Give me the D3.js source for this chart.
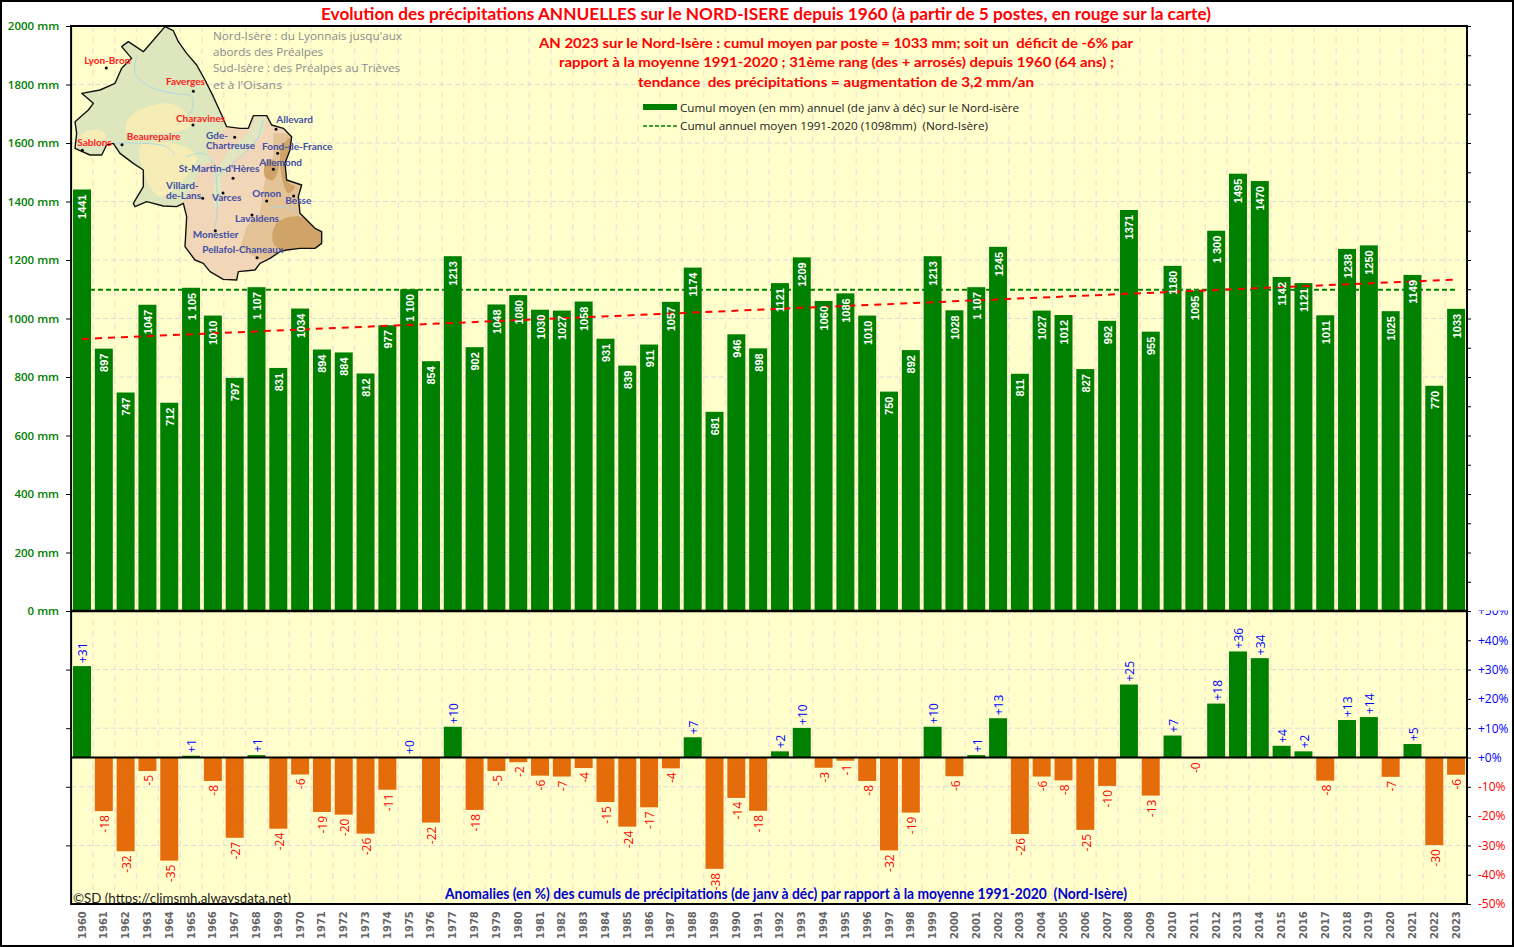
<!DOCTYPE html>
<html>
<head>
<meta charset="utf-8">
<title>Précipitations annuelles Nord-Isère</title>
<script src="https://cdn.jsdelivr.net/npm/d3@7"></script>
<style>
body { margin: 0; background: #fff; }
svg { display: block; }
</style>
</head>
<body>
<svg id="chart" width="1514" height="947"></svg>
<script>
// the data
const years = [1960, 1961, 1962, 1963, 1964, 1965, 1966, 1967, 1968, 1969,
  1970, 1971, 1972, 1973, 1974, 1975, 1976, 1977, 1978, 1979,
  1980, 1981, 1982, 1983, 1984, 1985, 1986, 1987, 1988, 1989,
  1990, 1991, 1992, 1993, 1994, 1995, 1996, 1997, 1998, 1999,
  2000, 2001, 2002, 2003, 2004, 2005, 2006, 2007, 2008, 2009,
  2010, 2011, 2012, 2013, 2014, 2015, 2016, 2017, 2018, 2019,
  2020, 2021, 2022, 2023];
const cumuls = [1441, 897, 747, 1047, 712, 1105, 1010, 797, 1107, 831,
  1034, 894, 884, 812, 977, 1100, 854, 1213, 902, 1048,
  1080, 1030, 1027, 1058, 931, 839, 911, 1057, 1174, 681,
  946, 898, 1121, 1209, 1060, 1086, 1010, 750, 892, 1213,
  1028, 1107, 1245, 811, 1027, 1012, 827, 992, 1371, 955,
  1180, 1095, 1300, 1495, 1470, 1142, 1121, 1011, 1238, 1250,
  1025, 1149, 770, 1033];
const cumulLabels = ["1441", "897", "747", "1047", "712", "1 105", "1010", "797", "1 107", "831",
  "1034", "894", "884", "812", "977", "1 100", "854", "1213", "902", "1048",
  "1080", "1030", "1027", "1058", "931", "839", "911", "1057", "1174", "681",
  "946", "898", "1121", "1209", "1060", "1086", "1010", "750", "892", "1213",
  "1028", "1 107", "1245", "811", "1027", "1012", "827", "992", "1371", "955",
  "1180", "1095", "1 300", "1495", "1470", "1142", "1121", "1011", "1238", "1250",
  "1025", "1149", "770", "1033"];
const anomalies = [31.2, -18.3, -32.0, -4.6, -35.2, 0.6, -8.0, -27.4, 0.8, -24.3,
  -5.8, -18.6, -19.5, -26.0, -11.0, 0.2, -22.2, 10.5, -17.9, -4.6,
  -1.6, -6.2, -6.5, -3.6, -15.2, -23.6, -17.0, -3.7, 6.9, -38.0,
  -13.8, -18.2, 2.1, 10.1, -3.5, -1.1, -8.0, -31.7, -18.8, 10.5,
  -6.4, 0.8, 13.4, -26.1, -6.5, -7.8, -24.7, -9.7, 24.9, -13.0,
  7.5, -0.3, 18.4, 36.2, 33.9, 4.0, 2.1, -7.9, 12.8, 13.8,
  -6.6, 4.6, -29.9, -5.9];
const anomalyLabels = ["+31", "-18", "-32", "-5", "-35", "+1", "-8", "-27", "+1", "-24",
  "-6", "-19", "-20", "-26", "-11", "+0", "-22", "+10", "-18", "-5",
  "-2", "-6", "-7", "-4", "-15", "-24", "-17", "-4", "+7", "-38",
  "-14", "-18", "+2", "+10", "-3", "-1", "-8", "-32", "-19", "+10",
  "-6", "+1", "+13", "-26", "-6", "-8", "-25", "-10", "+25", "-13",
  "+7", "-0", "+18", "+36", "+34", "+4", "+2", "-8", "+13", "+14",
  "-7", "+5", "-30", "-6"];
const normale = 1098;
const trendYears = [1960, 2023];
const trendValues = [930, 1133];
const mmTicks = [0, 200, 400, 600, 800, 1000, 1200, 1400, 1600, 1800, 2000];
const mmMinorTicks = [100, 300, 500, 700, 900, 1100, 1300, 1500, 1700, 1900];
const pctTicks = [50, 40, 30, 20, 10, 0, -10, -20, -30, -40, -50];
const pctGrid = [30, 10, -10, -30];

const titleText = "Evolution des précipitations ANNUELLES sur le NORD-ISERE depuis 1960 (à partir de 5 postes, en rouge sur la carte)";
const subtitleLines = [
  "AN 2023 sur le Nord-Isère : cumul moyen par poste = 1033 mm; soit un  déficit de -6% par",
  "rapport à la moyenne 1991-2020 ; 31ème rang (des + arrosés) depuis 1960 (64 ans) ;",
  "tendance  des précipitations = augmentation de 3,2 mm/an"
];
const noteLines = ["Nord-Isère : du Lyonnais jusqu'aux", "abords des Préalpes", "Sud-Isère : des Préalpes au Trièves", "et à l'Oisans"];

// the map inset, in its own drawing units (3 units = 1 pixel)
const mapOutline = [[495,80],[520,92],[535,125],[560,160],[590,195],[615,240],[640,290],[665,345],[680,380],[720,385],[745,385],[760,347],[800,347],[815,375],[850,385],[875,410],[870,450],[855,490],[860,540],[905,555],[895,590],[900,640],[945,685],[965,695],[965,730],[945,745],[900,745],[860,750],[840,755],[810,775],[780,790],[765,810],[715,815],[710,840],[670,838],[630,815],[610,790],[585,780],[555,740],[560,650],[550,610],[530,620],[490,618],[440,605],[405,620],[400,610],[430,560],[430,510],[400,490],[360,460],[340,430],[320,435],[305,465],[270,465],[225,445],[230,400],[225,365],[265,330],[280,310],[245,280],[300,270],[345,250],[365,205],[395,175],[365,140],[385,125],[430,155],[465,115],[495,80]];
const mapSouth = [[680,380],[640,420],[620,450],[640,480],[600,500],[590,540],[560,590],[545,615],[545,800],[700,860],[1000,800],[1000,330],[700,330]];
const mapValley = [[800,345],[790,400],[750,440],[700,480],[665,530],[660,620],[640,620],[640,530],[680,460],[745,400],[770,345]];
const mapHills = [
  [[390,350],[500,310],[560,340],[570,380],[470,400],[380,400]],
  [[420,440],[520,430],[590,470],[530,560],[480,590],[450,560],[430,510]],
  [[250,400],[300,390],[320,410],[280,425],[240,425]]
];
const mapTan = [[820,400],[880,400],[860,540],[910,550],[900,640],[970,700],[965,750],[860,755],[810,775],[780,780],[720,745],[740,680],[780,640],[790,570],[800,510],[820,470]];
const mapBrown = [
  [[845,440],[880,410],[865,545],[885,560],[865,580],[845,530]],
  [[830,670],[900,650],[970,700],[965,750],[860,755],[820,730]],
  [[800,480],[835,490],[820,540],[795,530]]
];
const mapRivers = [
  [[410,170],[405,220],[450,260],[520,280],[575,290],[575,330],[530,375]],
  [[340,430],[430,430],[500,440],[525,465]],
  [[560,470],[610,460],[640,490],[650,560],[650,650],[640,700]],
  [[790,360],[770,420],[700,490],[650,530]],
  [[810,625],[860,620],[890,640]]
];
const mapCities = [
  {lines: ["Lyon-Bron"], dot: [319,204], at: [253,192], color: "#ff2020"},
  {lines: ["Faverges"], dot: [580,274], at: [498,255], color: "#ff2020"},
  {lines: ["Charavines"], dot: [579,375], at: [528,365], color: "#ff2020"},
  {lines: ["Beaurepaire"], dot: [366,434], at: [380,420], color: "#ff2020"},
  {lines: ["Sablons"], dot: [247,451], at: [232,437], color: "#ff2020"},
  {lines: ["Allevard"], dot: [828,388], at: [829,370], color: "#3f4ea5"},
  {lines: ["Gde-", "Chartreuse"], dot: [704,412], at: [618,418], color: "#3f4ea5"},
  {lines: ["Fond-de-France"], dot: [833,460], at: [786,449], color: "#3f4ea5"},
  {lines: ["Allemond"], dot: [820,508], at: [778,498], color: "#3f4ea5"},
  {lines: ["St-Martin-d'Hères"], dot: [699,535], at: [536,517], color: "#3f4ea5"},
  {lines: ["Villard-", "de-Lans"], dot: [608,595], at: [498,568], color: "#3f4ea5"},
  {lines: ["Varces"], dot: [669,579], at: [636,602], color: "#3f4ea5"},
  {lines: ["Ornon"], dot: [800,603], at: [757,590], color: "#3f4ea5"},
  {lines: ["Besse"], dot: [881,588], at: [856,612], color: "#3f4ea5"},
  {lines: ["Lavaldens"], dot: [756,645], at: [705,667], color: "#3f4ea5"},
  {lines: ["Monestier"], dot: [646,692], at: [578,715], color: "#3f4ea5"},
  {lines: ["Pellafol-Chaneaux"], dot: [771,773], at: [607,760], color: "#3f4ea5"}
];

const GREEN = "#008000", ORANGE = "#e46c0a", RED = "#ff0000", BLUE = "#0000ff";
const svg = d3.select("#chart");

// scales
const x = d3.scaleBand().domain(years).range([71.1, 1467]).paddingInner(0.175).paddingOuter(0.0875);
const yMain = d3.scaleLinear().domain([0, 2000]).range([611, 26]);
const yPct = d3.scaleLinear().domain([-50, 50]).range([904, 611]);
const left = 71.1, right = 1467, step = x.step();
const cx = y => x(y) + x.bandwidth() / 2;

// plot backgrounds
svg.append("rect").attr("x", left).attr("y", 26).attr("width", right - left).attr("height", 878).attr("fill", "#ffffcc");

// grid
const grid = svg.append("g");
grid.selectAll(".v").data(years.slice(1)).join("line")
  .attr("x1", d => x(d) - (step - x.bandwidth()) / 2).attr("x2", d => x(d) - (step - x.bandwidth()) / 2)
  .attr("y1", 26).attr("y2", 904)
  .attr("stroke", "#fbe3d4").attr("stroke-width", 1.6).attr("stroke-dasharray", "6 5");
grid.selectAll(".h").data(mmTicks.slice(1, -1)).join("line")
  .attr("x1", left).attr("x2", right).attr("y1", d => yMain(d)).attr("y2", d => yMain(d))
  .attr("stroke", "#d9d9de").attr("stroke-width", 1).attr("stroke-dasharray", "5 3");
grid.selectAll(".p").data(pctGrid).join("line")
  .attr("x1", left).attr("x2", right).attr("y1", d => yPct(d)).attr("y2", d => yPct(d))
  .attr("stroke", "#d9d9de").attr("stroke-width", 1).attr("stroke-dasharray", "5 3");

// normale line goes under the bars
const line = d3.line().x(d => cx(d[0])).y(d => yMain(d[1]));
svg.append("path").attr("d", line([[1960, normale], [2023, normale]]))
  .attr("fill", "none").attr("stroke", GREEN).attr("stroke-width", 2).attr("stroke-dasharray", "5 3");

// bars
svg.append("g").selectAll("rect").data(years).join("rect")
  .attr("x", d => x(d)).attr("width", x.bandwidth())
  .attr("y", (d, i) => yMain(cumuls[i]))
  .attr("height", (d, i) => yMain(0) - yMain(cumuls[i]))
  .attr("fill", GREEN);

svg.append("g").selectAll("rect").data(years).join("rect")
  .attr("x", d => x(d)).attr("width", x.bandwidth())
  .attr("y", (d, i) => yPct(Math.max(0, anomalies[i])))
  .attr("height", (d, i) => Math.abs(yPct(anomalies[i]) - yPct(0)))
  .attr("fill", (d, i) => anomalies[i] >= 0 ? GREEN : ORANGE);

// tendance
svg.append("path").attr("d", line(trendYears.map((d, i) => [d, trendValues[i]])))
  .attr("fill", "none").attr("stroke", RED).attr("stroke-width", 2).attr("stroke-dasharray", "7 6");

// labels on the bars
svg.append("g").selectAll("text").data(years).join("text")
  .attr("transform", (d, i) => `translate(${cx(d) + 0.5},${yMain(cumuls[i]) + 5}) rotate(-90)`)
  .attr("text-anchor", "end").attr("dy", "0.36em")
  .attr("font-family", "Liberation Sans").attr("font-weight", "bold").attr("font-size", 11)
  .attr("fill", "#fff")
  .text((d, i) => cumulLabels[i]);

svg.append("g").selectAll("text").data(years).join("text")
  .attr("transform", (d, i) => {
    const off = anomalies[i] >= 0 ? -3 : 4;
    return `translate(${cx(d) + 1},${yPct(anomalies[i]) + off}) rotate(-90)`;
  })
  .attr("text-anchor", (d, i) => anomalies[i] >= 0 ? "start" : "end").attr("dy", "0.36em")
  .attr("font-family", "Open Sans").attr("font-size", 12)
  .attr("fill", (d, i) => anomalies[i] >= 0 ? BLUE : RED)
  .text((d, i) => anomalyLabels[i]);

// map inset
const m = d3.scaleLinear().domain([0, 1260]).range([0, 420]);
const mapLine = d3.line().x(d => m(d[0])).y(d => m(d[1]));
const smooth = d3.line().x(d => m(d[0])).y(d => m(d[1])).curve(d3.curveCatmullRomClosed);
const openSmooth = d3.line().x(d => m(d[0])).y(d => m(d[1])).curve(d3.curveCatmullRom);
svg.append("clipPath").attr("id", "mapClip").append("path").attr("d", mapLine(mapOutline) + "Z");
const map = svg.append("g");
const relief = map.append("g").attr("clip-path", "url(#mapClip)");
relief.append("path").attr("d", mapLine(mapOutline) + "Z").attr("fill", "#dee6bd");
relief.selectAll(".hill").data(mapHills).join("path").attr("d", smooth).attr("fill", "#f5edb5");
relief.append("path").attr("d", mapLine(mapSouth) + "Z").attr("fill", "#f1d6b8");
relief.append("path").attr("d", mapLine(mapValley) + "Z").attr("fill", "#dfe6c0");
relief.append("path").attr("d", mapLine(mapTan) + "Z").attr("fill", "#e4c396");
relief.selectAll(".brown").data(mapBrown).join("path").attr("d", smooth).attr("fill", "#d0a468");
relief.selectAll(".river").data(mapRivers).join("path").attr("d", openSmooth)
  .attr("fill", "none").attr("stroke", "#aed6e0").attr("stroke-width", 1);
map.append("path").attr("d", mapLine(mapOutline) + "Z")
  .attr("fill", "none").attr("stroke", "#111").attr("stroke-width", 1.4).attr("stroke-linejoin", "round");
map.selectAll("circle").data(mapCities).join("circle")
  .attr("cx", d => m(d.dot[0])).attr("cy", d => m(d.dot[1])).attr("r", 1.5).attr("fill", "#000");
mapCities.forEach(c => {
  c.lines.forEach((t, i) => {
    map.append("text").attr("x", m(c.at[0])).attr("y", m(c.at[1]) + i * 9.5)
      .attr("font-family", "Lato").attr("font-weight", "bold").attr("font-size", 10)
      .attr("fill", c.color).text(t);
  });
});

// white band so the +50% label gets cut like the original
const rightAxis = svg.append("g").attr("transform", `translate(${right},0)`)
  .call(d3.axisRight(yPct).tickValues(pctTicks).tickSize(4).tickPadding(7).tickFormat(d => (d >= 0 ? "+" : "") + d + "%"));
rightAxis.select(".domain").remove();
rightAxis.selectAll("text").attr("font-family", "Open Sans").attr("font-size", 12)
  .attr("fill", d => d >= 0 ? BLUE : RED);
rightAxis.selectAll("line").attr("stroke", "#000");
svg.append("rect").attr("x", right + 1).attr("y", 590).attr("width", 44).attr("height", 20.5).attr("fill", "#fff");

// axes
const leftAxis = svg.append("g").attr("transform", `translate(${left},0)`)
  .call(d3.axisLeft(yMain).tickValues(mmTicks).tickSize(5).tickPadding(7).tickFormat(d => d + " mm"));
leftAxis.select(".domain").remove();
leftAxis.selectAll("text").attr("font-family", "Open Sans").attr("font-weight", 600).attr("font-size", 11.5).attr("fill", GREEN);
leftAxis.selectAll("line").attr("stroke", "#000");

const leftPct = svg.append("g").attr("transform", `translate(${left},0)`)
  .call(d3.axisLeft(yPct).tickValues(pctGrid).tickSize(5).tickFormat(""));
leftPct.select(".domain").remove();
leftPct.selectAll("line").attr("stroke", "#000");

const rightMinor = svg.append("g").attr("transform", `translate(${right},0)`)
  .call(d3.axisRight(yMain).tickValues(mmMinorTicks.concat(mmTicks)).tickSize(4).tickFormat(""));
rightMinor.select(".domain").remove();
rightMinor.selectAll("line").attr("stroke", "#000");

const bottomAxis = svg.append("g").attr("transform", "translate(0,904)")
  .call(d3.axisBottom(x).tickSize(0).tickFormat(d => d));
bottomAxis.select(".domain").remove();
bottomAxis.selectAll("text")
  .attr("x", 0).attr("y", 0).attr("dy", 0)
  .attr("transform", "translate(0.5,35) rotate(-90)")
  .attr("text-anchor", "start").attr("dominant-baseline", "middle")
  .attr("font-family", "DejaVu Sans").attr("font-weight", "bold").attr("font-size", 10)
  .attr("fill", "#666");

// frames
const frame = svg.append("g").attr("stroke", "#000").attr("fill", "none");
frame.append("rect").attr("x", left).attr("y", 26).attr("width", right - left).attr("height", 878).attr("stroke-width", 2);
frame.append("line").attr("x1", left).attr("x2", right).attr("y1", yMain(0)).attr("y2", yMain(0)).attr("stroke-width", 2.5);
frame.append("line").attr("x1", left).attr("x2", right).attr("y1", yPct(0)).attr("y2", yPct(0)).attr("stroke-width", 2);
frame.append("rect").attr("x", 1).attr("y", 1).attr("width", 1512).attr("height", 945).attr("stroke-width", 2);

// texts
function fitted(t, xPos, yPos, width, font, size, weight, color) {
  return svg.append("text").attr("x", xPos).attr("y", yPos)
    .attr("font-family", font).attr("font-size", size).attr("font-weight", weight).attr("fill", color)
    .attr("textLength", width).attr("lengthAdjust", "spacingAndGlyphs")
    .style("white-space", "pre").text(t);
}
fitted(titleText, 321, 20, 890, "Lato", 17.5, "bold", RED);
fitted(subtitleLines[0], 539, 48, 594, "Lato", 14, "bold", RED);
fitted(subtitleLines[1], 559, 67, 555, "Lato", 14, "bold", RED);
fitted(subtitleLines[2], 638, 87, 396, "Lato", 14, "bold", RED);

// grey note beside the map
const noteY = [40, 56, 72, 89], noteW = [189, 110, 187, 69];
noteLines.forEach((t, i) => fitted(t, 213, noteY[i], noteW[i], "Open Sans", 11.5, "normal", "#8c8c8c"));

// legend
svg.append("rect").attr("x", 643).attr("y", 104).attr("width", 34).attr("height", 6).attr("fill", GREEN);
svg.append("line").attr("x1", 643).attr("x2", 677).attr("y1", 126).attr("y2", 126)
  .attr("stroke", GREEN).attr("stroke-width", 1.6).attr("stroke-dasharray", "4 2");
fitted("Cumul moyen (en mm) annuel (de janv à déc) sur le Nord-isère", 680, 112, 339, "Open Sans", 11, "normal", "#222");
fitted("Cumul annuel moyen 1991-2020 (1098mm)  (Nord-Isère)", 680, 130, 308, "Open Sans", 11, "normal", "#222");

fitted("Anomalies (en %) des cumuls de précipitations (de janv à déc) par rapport à la moyenne 1991-2020  (Nord-Isère)", 445, 899, 682, "Lato", 14.5, "bold", "#0000cc");
fitted("©SD (https://climsmh.alwaysdata.net)", 73, 903, 218, "Lato", 13, "normal", "#222");
</script>
</body>
</html>
